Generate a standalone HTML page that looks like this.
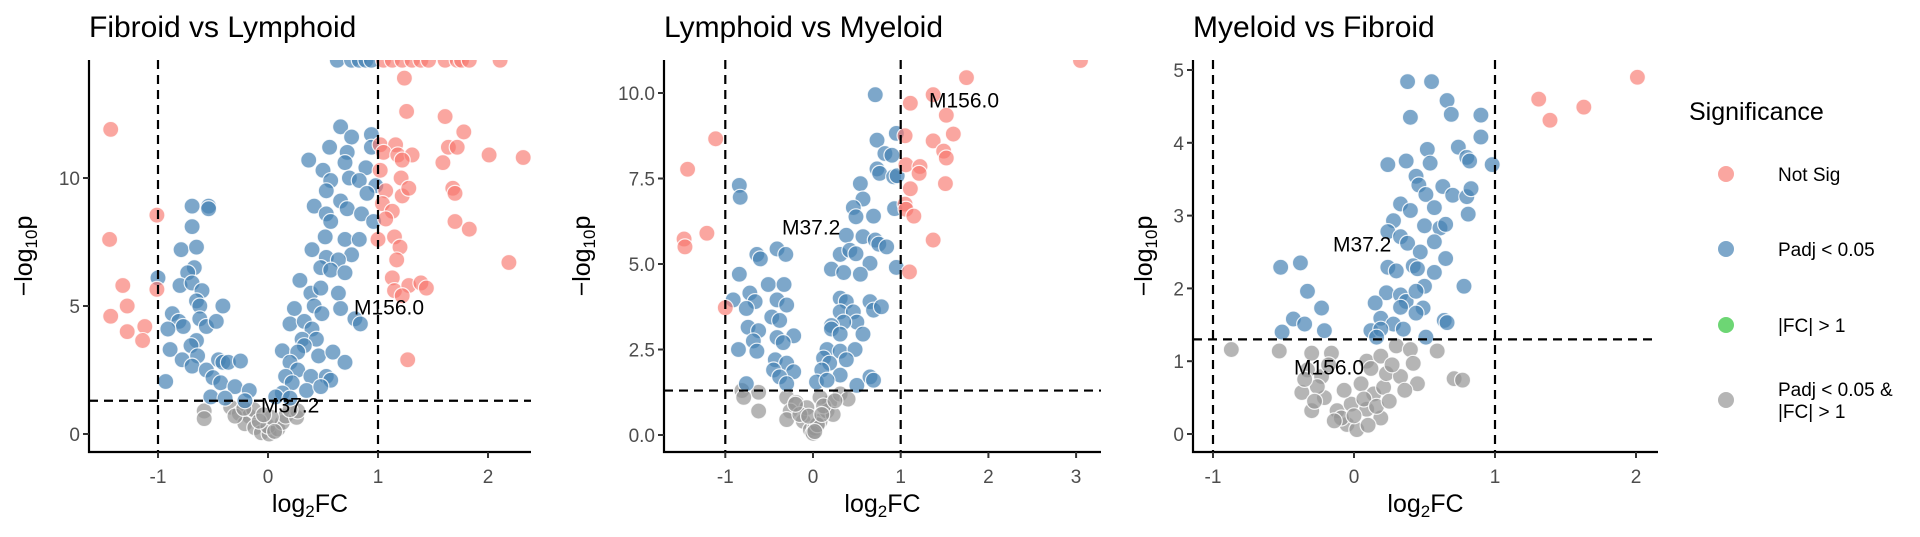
<!DOCTYPE html>
<html><head><meta charset="utf-8"><style>
html,body{margin:0;padding:0;background:#fff;}
svg{display:block;font-family:"Liberation Sans",Arial,sans-serif;}
</style></head><body>
<svg id="fig" width="1920" height="537" viewBox="0 0 1920 537" xmlns="http://www.w3.org/2000/svg"></svg>
<script>
// ---------- Data (log2FC, -log10p) ----------
const p1Red = [[-1.43,11.9],[-1.44,7.6],[-1.32,5.8],[-1.28,5.0],[-1.43,4.6],[-1.28,4.0],[-1.12,4.2],[-1.14,3.65],[-1.01,8.55],[-1.01,5.65],
[1.24,13.9],[1.26,12.6],[1.61,12.4],[1.78,11.8],[1.64,11.2],[1.72,11.2],[2.01,10.9],[2.32,10.8],[1.59,10.6],[1.68,9.6],[1.70,9.4],[1.70,8.3],[1.83,8.0],[2.19,6.7],[1.27,2.9],
[1.02,11.3],[1.16,11.3],[1.05,11.0],[1.18,10.9],[1.31,10.9],[1.22,10.7],[1.02,10.3],[1.21,10.0],[1.07,9.5],[1.22,9.3],[1.28,9.6],[1.04,9.0],[1.13,8.7],[1.07,8.4],[1.0,7.6],[1.15,7.7],[1.2,7.3],[1.17,6.8],[1.13,6.1],[1.15,5.6],[1.28,5.8],[1.39,5.9],[1.44,5.7],[1.22,5.4],
[1.05,14.6],[1.13,14.6],[1.22,14.6],[1.31,14.6],[1.39,14.6],[1.46,14.6],[1.61,14.6],[1.72,14.6],[1.76,14.6],[1.83,14.6],[2.11,14.6]];
const p1Blue = [[0.63,14.6],[0.76,14.6],[0.83,14.6],[0.89,14.6],[0.94,14.6],
[-0.69,8.9],[-0.54,8.9],[-0.54,8.8],[-0.69,8.1],[-0.79,7.2],[-0.65,7.3],[-0.67,6.5],[-0.73,6.3],[-0.80,5.8],[-0.69,5.9],[-0.60,5.6],[-1.0,6.1],[-0.65,5.2],[-0.62,5.0],[-0.41,5.0],[-0.87,4.7],[-0.81,4.4],[-0.77,4.2],[-0.91,4.1],[-0.62,4.5],[-0.56,4.2],[-0.47,4.4],[-0.65,3.65],[-0.70,3.45],[-0.89,3.3],[-0.78,2.9],[-0.64,3.05],[-0.69,2.65],[-0.56,2.5],[-0.45,2.9],[-0.41,2.8],[-0.36,2.8],[-0.25,2.85],[-0.50,2.2],[-0.43,2.0],[-0.93,2.05],[-0.30,1.85],[-0.52,1.45],[-0.39,1.4],[-0.17,1.7],[-0.21,1.3],
[0.66,12.0],[0.76,11.6],[0.56,11.2],[0.72,11.0],[0.94,11.7],[0.94,11.2],[0.37,10.7],[0.70,10.6],[0.50,10.3],[0.89,10.4],[0.57,9.9],[0.74,10.0],[0.83,9.9],[0.98,9.7],[0.53,9.5],[0.90,9.4],[0.66,9.1],[0.72,8.8],[0.42,8.9],[0.53,8.6],[0.85,8.6],[0.96,8.3],[0.57,8.3],[0.52,7.7],[0.70,7.6],[0.83,7.6],[0.40,7.2],[0.53,6.9],[0.76,7.0],[0.64,6.8],[0.48,6.5],[0.57,6.4],[0.70,6.3],[0.29,6.0],[0.39,5.5],[0.48,5.7],[0.64,5.5],[0.24,4.9],[0.42,5.0],[0.49,4.7],[0.66,4.9],[0.79,4.5],[0.84,4.3],[0.20,4.3],[0.33,4.4],[0.40,4.1],[0.31,3.7],[0.44,3.7],[0.33,3.45],[0.46,3.05],[0.13,3.25],[0.27,3.2],[0.59,3.2],[0.70,2.8],[0.20,2.8],[0.27,2.5],[0.16,2.25],[0.39,2.25],[0.53,2.25],[0.57,2.1],[0.22,2.0],[0.35,1.7],[0.48,1.85],[0.13,1.6],[0.07,1.45],[0.20,1.4]];
const p1Gray = [[-0.58,0.9],[-0.58,0.6],[-0.34,1.05],[-0.26,0.8],[-0.17,0.7],[-0.21,0.4],[-0.12,0.25],[-0.06,0.05],[0.01,0],[0,0.3],[0.09,0.2],[0.13,0.45],[0.16,0.7],[0.26,0.65],[0.27,0.9],[-0.13,0.95],[-0.30,0.7],[0.03,0.65],[-0.08,0.5],[0.06,0.1],[0.2,0.95],[-0.22,1.0],[-0.04,0.75]];

const p2Red = [[3.05,10.95],[1.75,10.45],[1.37,9.95],[1.11,9.7],[1.52,9.35],[1.60,8.8],[1.05,8.75],[1.37,8.6],[1.49,8.3],[1.52,8.1],[1.06,7.9],[1.22,7.85],[1.21,7.65],[1.51,7.35],[1.11,7.2],[1.05,6.75],[1.06,6.6],[1.15,6.4],[1.37,5.7],[1.10,4.77],[-1.11,8.66],[-1.43,7.77],[-1.21,5.9],[-1.47,5.73],[-1.46,5.5],[-1.0,3.72]];
const p2Blue = [[0.71,9.95],[0.95,8.82],[0.73,8.62],[0.82,8.23],[0.90,8.18],[0.73,7.78],[0.76,7.65],[0.92,7.55],[0.96,7.58],[0.54,7.35],[0.57,6.9],[0.46,6.65],[0.93,6.62],[0.69,6.4],[0.49,6.38],[-0.84,7.3],[-0.83,6.95],[0.38,5.84],[0.57,5.8],[0.71,5.7],[0.75,5.58],[0.84,5.5],[0.31,5.28],[0.42,5.4],[0.49,5.3],[-0.41,5.44],[-0.31,5.28],[-0.64,5.28],[-0.60,5.15],[0.65,5.02],[0.95,4.9],[0.21,4.85],[0.35,4.75],[0.54,4.7],[-0.84,4.7],[-0.51,4.4],[-0.33,4.4],[-0.72,4.15],[-0.66,3.9],[-0.91,3.95],[-0.76,3.7],[-0.41,3.95],[-0.30,3.8],[0.31,4.0],[0.38,3.9],[0.65,3.9],[0.69,3.65],[0.78,3.75],[0.31,3.6],[0.46,3.6],[0.50,3.3],[0.35,3.3],[0.21,3.2],[-0.47,3.45],[-0.38,3.35],[-0.74,3.15],[-0.62,3.05],[0.21,3.1],[0.31,2.95],[0.57,2.95],[-0.41,2.85],[-0.22,2.9],[-0.68,2.75],[-0.34,2.7],[-0.85,2.5],[-0.64,2.45],[0.16,2.5],[0.31,2.45],[0.48,2.5],[0.12,2.25],[0.38,2.2],[-0.43,2.2],[-0.30,2.1],[-0.45,1.9],[-0.22,1.85],[0.19,2.1],[0.10,1.9],[0.31,1.75],[-0.38,1.7],[0.04,1.55],[0.16,1.6],[0.50,1.45],[0.65,1.7],[0.69,1.6],[-0.76,1.5],[-0.30,1.5]];
const p2Gray = [[-0.81,1.3],[-0.62,1.25],[-0.62,0.7],[-0.79,1.1],[-0.30,1.1],[-0.19,0.95],[-0.26,0.7],[-0.30,0.45],[-0.11,0.4],[-0.03,0.15],[0.02,0.2],[0.08,0.4],[0.19,0.95],[0.16,0.7],[0.31,1.2],[0.40,1.05],[0.23,0.6],[-0.07,0.8],[0.08,1.1],[0.0,0.05],[0.05,0.3],[-0.15,0.6],[-0.2,0.9],[0.12,0.85],[0.25,1.0],[-0.05,0.55],[0.02,0.1],[0.1,0.6]];

const p3Red = [[2.01,4.9],[1.31,4.6],[1.63,4.49],[1.39,4.31]];
const p3Blue = [[0.38,4.84],[0.55,4.84],[0.66,4.58],[0.40,4.35],[0.69,4.39],[0.90,4.38],[0.90,4.08],[0.52,3.91],[0.74,3.94],[0.80,3.80],[0.82,3.75],[0.24,3.70],[0.37,3.75],[0.54,3.72],[0.98,3.70],[0.44,3.54],[0.46,3.42],[0.51,3.29],[0.63,3.40],[0.70,3.28],[0.80,3.26],[0.83,3.37],[0.33,3.16],[0.40,3.07],[0.57,3.11],[0.81,3.02],[0.28,2.93],[0.24,2.78],[0.33,2.71],[0.38,2.62],[0.50,2.86],[0.61,2.83],[0.65,2.88],[0.57,2.64],[0.47,2.50],[0.65,2.41],[0.24,2.29],[0.30,2.24],[0.42,2.31],[0.45,2.27],[0.57,2.22],[-0.52,2.29],[-0.38,2.35],[-0.33,1.96],[0.50,2.03],[0.78,2.03],[0.23,1.94],[0.33,1.91],[0.37,1.82],[0.44,1.96],[0.15,1.80],[-0.23,1.73],[0.33,1.74],[0.49,1.73],[0.44,1.66],[-0.43,1.58],[-0.35,1.51],[0.64,1.56],[0.66,1.53],[0.19,1.59],[0.28,1.51],[-0.21,1.42],[-0.51,1.40],[0.12,1.42],[0.19,1.44],[0.35,1.44],[0.16,1.33],[0.51,1.33]];
const p3Gray = [[-0.87,1.16],[-0.53,1.14],[0.59,1.14],[0.71,0.76],[0.77,0.74],[-0.30,1.11],[-0.16,1.11],[0.09,1.0],[0.19,1.07],[0.30,1.21],[0.40,1.16],[0.42,0.97],[0.45,0.69],[-0.33,0.88],[-0.23,0.79],[-0.37,0.57],[-0.30,0.32],[-0.21,0.50],[-0.12,0.32],[-0.05,0.13],[0.02,0.06],[0.09,0.34],[0.14,0.55],[0.21,0.64],[0.23,0.83],[0.33,0.79],[0.05,0.69],[0.19,0.22],[-0.09,0.22],[-0.02,0.41],[-0.26,0.65],[0.12,0.9],[-0.18,0.95],[-0.28,0.45],[-0.14,0.18],[0.0,0.25],[0.07,0.48],[0.16,0.38],[0.27,0.95],[0.36,0.6],[0.25,0.45],[-0.07,0.6],[-0.35,0.75],[0.1,0.12]];

const p1XTicks = [-1,0,1,2], p1YTicks = [0,5,10], p1YLabels = ['0','5','10'];
const p2XTicks = [-1,0,1,2,3], p2YTicks = [0,2.5,5,7.5,10], p2YLabels = ['0.0','2.5','5.0','7.5','10.0'];
const p3XTicks = [-1,0,1,2], p3YTicks = [0,1,2,3,4,5], p3YLabels = ['0','1','2','3','4','5'];
const legendLabels = [['Not Sig'],['Padj < 0.05'],['|FC| > 1'],['Padj < 0.05 &','|FC| > 1']];

// ---------- Drawing ----------
const NS = 'http://www.w3.org/2000/svg';
const svg = document.getElementById('fig');
function el(tag, attrs, parent) {
  const e = document.createElementNS(NS, tag);
  for (const k in attrs) e.setAttribute(k, attrs[k]);
  (parent || svg).appendChild(e);
  return e;
}
const COL = {red:'rgba(248,118,109,0.65)', blue:'rgba(70,130,180,0.7)', gray:'rgba(150,150,150,0.7)', green:'rgba(60,200,70,0.75)'};
const TOP = 60, BOTTOM = 452;

function panel(cfg) {
  const g = el('g', {});
  
  
  const X = v => cfg.x0 + v * cfg.xu;
  const Y = v => cfg.y0 - v * cfg.yu;
  const clipId = cfg.name + '-clip';
  const cp = el('clipPath', {id: clipId}, g);
  el('rect', {x: cfg.left, y: TOP, width: cfg.right - cfg.left, height: BOTTOM - TOP}, cp);
  const t = el('text', {x: cfg.left, y: 37, 'font-size': 30, fill: '#000'}, g);
  t.textContent = cfg.title;
  
  
  const pg = el('g', {'clip-path': 'url(#' + clipId + ')'}, g);
  [[cfg.gray, COL.gray, 'point-not-significant'], [cfg.blue, COL.blue, 'point-padj'], [cfg.red, COL.red, 'point-not-sig']].forEach(([arr, c, nm]) => {
    arr.forEach(d => {
      const c1 = el('circle', {cx: X(d[0]), cy: Y(d[1]), r: 8, fill: c, stroke: 'rgba(255,255,255,0.85)', 'stroke-width': 1.2}, pg);
      
      
    });
  });
  [-1, 1].forEach(v => {
    const l = el('line', {x1: X(v), x2: X(v), y1: TOP, y2: BOTTOM, stroke: '#000', 'stroke-width': 2.2, 'stroke-dasharray': '9,6'}, g);
    
    
  });
  const hl = el('line', {x1: cfg.left, x2: cfg.right, y1: Y(1.3), y2: Y(1.3), stroke: '#000', 'stroke-width': 2.2, 'stroke-dasharray': '9,6'}, g);
  
  
  cfg.ann.forEach(a => {
    const at = el('text', {x: a[0], y: a[1], 'font-size': 21, fill: '#000', 'dominant-baseline': 'middle'}, g);
    at.textContent = a[2];
    
    
  });
  const ax = el('path', {d: `M${cfg.left},${TOP} V${BOTTOM} H${cfg.right}`, fill: 'none', stroke: '#000', 'stroke-width': 2.2}, g);
  
  
  cfg.xticks.forEach(v => {
    el('line', {x1: X(v), x2: X(v), y1: BOTTOM, y2: BOTTOM + 6, stroke: '#333', 'stroke-width': 2}, g);
    const tt = el('text', {x: X(v), y: 483, 'font-size': 19, fill: '#4d4d4d', 'text-anchor': 'middle'}, g);
    tt.textContent = v;
    
    
  });
  cfg.yticks.forEach((v, i) => {
    el('line', {x1: cfg.left - 6, x2: cfg.left, y1: Y(v), y2: Y(v), stroke: '#333', 'stroke-width': 2}, g);
    const tt = el('text', {x: cfg.left - 9, y: Y(v) + 7, 'font-size': 19, fill: '#4d4d4d', 'text-anchor': 'end'}, g);
    tt.textContent = cfg.ylabels[i];
    
    
  });
  const xt = el('text', {x: (cfg.left + cfg.right) / 2, y: 512, 'font-size': 25, fill: '#000', 'text-anchor': 'middle'}, g);
  xt.innerHTML = 'log<tspan font-size="17" dy="5">2</tspan><tspan dy="-5">FC</tspan>';
  
  
  const yt = el('text', {x: 0, y: 0, 'font-size': 25, fill: '#000', 'text-anchor': 'middle', transform: `translate(${cfg.ytx},256) rotate(-90)`}, g);
  yt.innerHTML = '\u2212log<tspan font-size="17" dy="5">10</tspan><tspan dy="-5">p</tspan>';
  
  
}

panel({name:'panel-fibroid-vs-lymphoid', title:'Fibroid vs Lymphoid', left:89, right:531, x0:268, xu:110, y0:434, yu:25.6,
  red:p1Red, blue:p1Blue, gray:p1Gray, xticks:p1XTicks, yticks:p1YTicks, ylabels:p1YLabels, ytx:32,
  ann:[[354,309,'M156.0'],[261,407,'M37.2']]});
panel({name:'panel-lymphoid-vs-myeloid', title:'Lymphoid vs Myeloid', left:664, right:1101, x0:813, xu:87.7, y0:435, yu:34.2,
  red:p2Red, blue:p2Blue, gray:p2Gray, xticks:p2XTicks, yticks:p2YTicks, ylabels:p2YLabels, ytx:590,
  ann:[[929,102,'M156.0'],[782,229,'M37.2']]});
panel({name:'panel-myeloid-vs-fibroid', title:'Myeloid vs Fibroid', left:1193, right:1658, x0:1354, xu:141, y0:434, yu:72.8,
  red:p3Red, blue:p3Blue, gray:p3Gray, xticks:p3XTicks, yticks:p3YTicks, ylabels:p3YLabels, ytx:1152,
  ann:[[1333,246,'M37.2'],[1294,369,'M156.0']]});

const lg = el('g', {});


const lt = el('text', {x: 1689, y: 120, 'font-size': 25, fill: '#000'}, lg);
lt.textContent = 'Significance';


const legCols = [COL.red, COL.blue, COL.green, COL.gray];
const legY = [174, 249, 325, 400];
legendLabels.forEach((lab, i) => {
  const c = el('circle', {cx: 1726, cy: legY[i], r: 8, fill: legCols[i]}, lg);
  
  
  lab.forEach((line, j) => {
    const tx = el('text', {x: 1778, y: legY[i] + 7 + (j - (lab.length - 1) / 2) * 22, 'font-size': 19, fill: '#000'}, lg);
    tx.textContent = line;
    
    
  });
});
</script>
</body></html>
